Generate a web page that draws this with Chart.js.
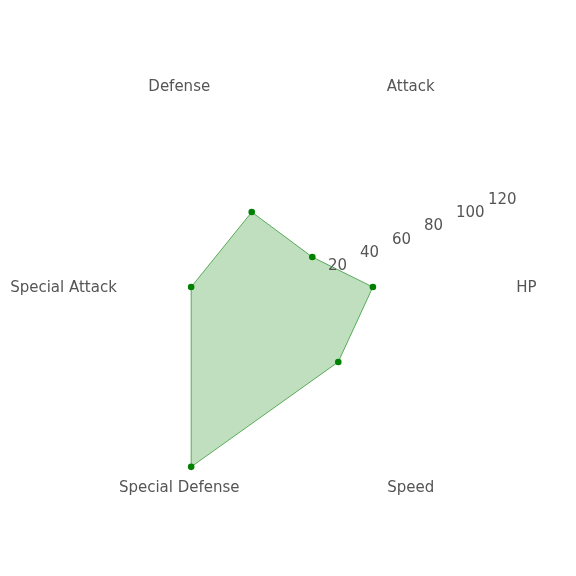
<!DOCTYPE html>
<html>
<head>
<meta charset="utf-8">
<script src="https://cdn.jsdelivr.net/npm/chart.js@4/dist/chart.umd.min.js"></script>
<style>
html,body{margin:0;padding:0;background:#fff;}
#wrap{width:576px;height:576px;}
</style>
</head>
<body>
<div id="wrap"><canvas id="c" width="576" height="576"></canvas></div>
<script>
// Data (counter-clockwise from the right, as in the reference)
const categories = ['HP', 'Attack', 'Defense', 'Special Attack', 'Special Defense', 'Speed'];
const statValues = [45, 20, 50, 60, 120, 50];
const tickValues = [20, 40, 60, 80, 100, 120];

// Chart.js goes clockwise: keep first item, reverse the rest
const order = [0, 5, 4, 3, 2, 1];
const chartLabels = order.map(i => categories[i]);
const chartValues = order.map(i => statValues[i]);

const TEXT = '#555555';
const FONT = '15px "DejaVu Sans"';

const overlay = {
  id: 'overlay',
  afterDatasetsDraw(chart) {
    const s = chart.scales.r;
    const ctx = chart.ctx;
    ctx.save();
    ctx.font = FONT;
    ctx.fillStyle = TEXT;
    // category labels, centered
    ctx.textAlign = 'center';
    ctx.textBaseline = 'middle';
    chartLabels.forEach((lab, i) => {
      const p = s.getPointPosition(i, s.drawingArea + 6.5);
      ctx.fillText(lab, p.x, p.y + 1);
    });
    // radial tick labels at 22.5 degrees
    const a = 22.5 * Math.PI / 180;
    ctx.textAlign = 'left';
    ctx.textBaseline = 'bottom';
    tickValues.forEach(v => {
      const d = s.getDistanceFromCenterForValue(v);
      const x = s.xCenter + d * Math.cos(a);
      const y = s.yCenter - d * Math.sin(a);
      ctx.fillText(String(v), x + 1, y);
    });
    ctx.restore();
  }
};

new Chart(document.getElementById('c'), {
  type: 'radar',
  data: {
    labels: chartLabels,
    datasets: [{
      data: chartValues,
      fill: true,
      backgroundColor: 'rgba(0,128,0,0.25)',
      borderColor: 'rgba(0,128,0,0.6)',
      borderWidth: 1,
      pointRadius: 3.3,
      pointBackgroundColor: '#008000',
      pointBorderColor: '#008000',
      pointBorderWidth: 0,
      tension: 0
    }]
  },
  options: {
    responsive: false,
    animation: false,
    layout: { padding: { left: 70, right: 56, top: 62, bottom: 64 } },
    plugins: { legend: { display: false }, tooltip: { enabled: false } },
    scales: {
      r: {
        min: 0,
        max: 130,
        startAngle: 90,
        grid: { display: false },
        angleLines: { display: false },
        ticks: { display: false },
        pointLabels: { display: false }
      }
    }
  },
  plugins: [overlay]
});
</script>
</body>
</html>
